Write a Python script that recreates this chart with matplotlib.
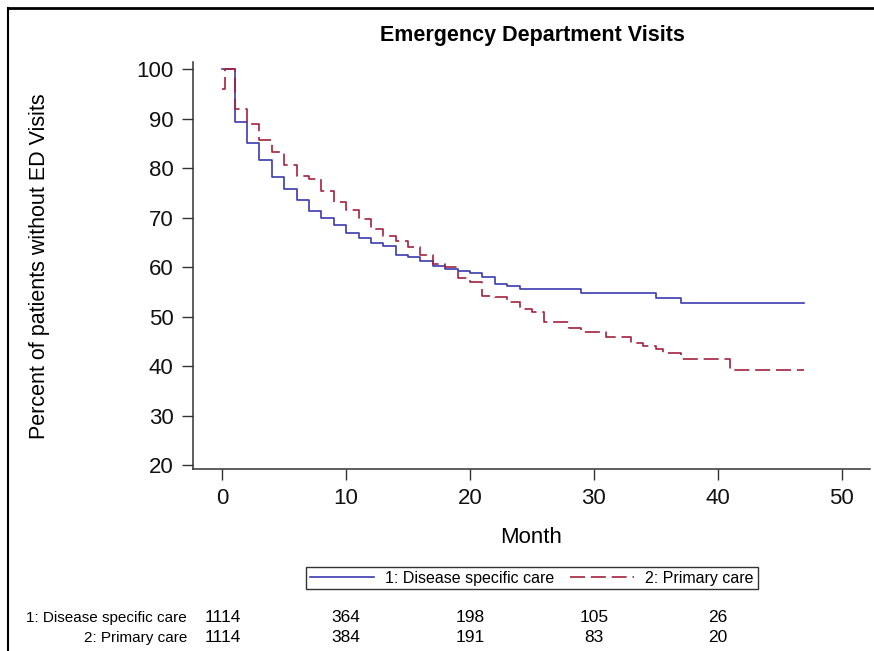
import numpy as np
import matplotlib.pyplot as plt
from matplotlib.lines import Line2D

plt.rcParams['font.family'] = ['Liberation Sans', 'DejaVu Sans']

# Kaplan-Meier style curves (percent without ED visit)
months_dsc = [0, 1, 2, 3, 4, 5, 6, 7, 8, 9, 10, 11, 12, 13, 14, 15, 16, 17, 18,
              19, 20, 21, 22, 23, 24, 29, 35, 37, 47]
pct_dsc = [100, 89.3, 85.2, 81.6, 78.2, 75.8, 73.5, 71.3, 69.9, 68.6, 67.0, 66.0,
           64.9, 64.3, 62.4, 62.1, 61.3, 60.2, 59.7, 59.3, 58.9, 58.1, 56.6, 56.3,
           55.6, 54.7, 53.8, 52.8, 52.8]

months_pc = [0, 0.2, 1, 2, 3, 4, 5, 6, 7, 8, 9, 10, 11, 12, 13, 14, 15, 16, 17, 18,
             19, 20, 21, 22, 23, 24, 25, 26, 28, 29, 31, 33, 34, 35, 35.6, 37, 41, 47]
pct_pc = [96, 100, 91.9, 89.0, 85.7, 83.2, 80.7, 78.5, 77.8, 75.5, 73.1, 71.5, 69.8,
          67.8, 66.4, 65.4, 64.1, 62.4, 60.7, 60.1, 57.9, 57.0, 54.2, 53.9, 53.0,
          51.5, 51.0, 49.0, 47.7, 47.0, 45.8, 44.7, 44.0, 43.4, 42.6, 41.4, 39.3, 39.3]

group_labels = ['1: Disease specific care', '2: Primary care']
risk_months = [0, 10, 20, 30, 40]
risk_dsc = [1114, 364, 198, 105, 26]
risk_pc = [1114, 384, 191, 83, 20]

W, H = 874, 651
fig = plt.figure(figsize=(W / 100, H / 100), dpi=100)
ax = fig.add_axes([193 / W, 1 - 469 / H, (870 - 193) / W, (469 - 62) / H])

blue = '#3b3bb0'
red = '#a3213f'
ax.step(months_dsc, pct_dsc, where='post', color=blue, lw=1.2,
        label=group_labels[0])
ax.step(months_pc, pct_pc, where='post', color=red, lw=1.2,
        dashes=(9, 3.5), label=group_labels[1])

ax.set_xlim(-2.37, 52.3)
ax.set_ylim(19.2, 101.5)
ax.set_xticks([0, 10, 20, 30, 40, 50])
ax.set_yticks([20, 30, 40, 50, 60, 70, 80, 90, 100])
ax.tick_params(direction='out', length=8, width=1, labelsize=16, colors='#333333',
               labelcolor='#111111', pad=6)
for s in ['top', 'right']:
    ax.spines[s].set_visible(False)
for s in ['left', 'bottom']:
    ax.spines[s].set_color('#333333')
    ax.spines[s].set_linewidth(1.1)

ax.set_xlabel('Month', fontsize=16)
ax.xaxis.set_label_coords(0.5, (469 - 527) / 407)
fig.text(40 / W, 1 - 266 / H, 'Percent of patients without ED Visits', rotation=90,
         ha='center', va='center', fontsize=15.5)
fig.text(532 / W, 1 - 36 / H, 'Emergency Department Visits', ha='center',
         va='center', fontsize=15.5, fontweight='bold')

leg = fig.legend(loc='center', bbox_to_anchor=(532 / W, 1 - 578 / H), ncol=2,
                 fontsize=11.5, frameon=True, fancybox=False, handlelength=4.0,
                 columnspacing=1.0, handletextpad=0.7, borderpad=0.25,
                 borderaxespad=0)
leg.get_frame().set_edgecolor('black')
leg.get_frame().set_linewidth(1)

# numbers at risk
for row, (lab, vals) in enumerate(zip(group_labels, [risk_dsc, risk_pc])):
    y = 1 - (618 + 20 * row) / H
    fig.text(187 / W, y, lab, ha='right', va='center', fontsize=11)
    for m, v in zip(risk_months, vals):
        xd = ax.transData.transform((m, 0))[0] / W
        fig.text(xd, y, str(v), ha='center', va='center', fontsize=12.5)

# outer frame
fig.add_artist(Line2D([8 / W, 1], [1 - 8 / H, 1 - 8 / H], color='black', lw=2,
                      transform=fig.transFigure))
fig.add_artist(Line2D([8 / W, 8 / W], [0, 1 - 8 / H], color='black', lw=1.5,
                      transform=fig.transFigure))

fig.savefig('out.png', dpi=100)
